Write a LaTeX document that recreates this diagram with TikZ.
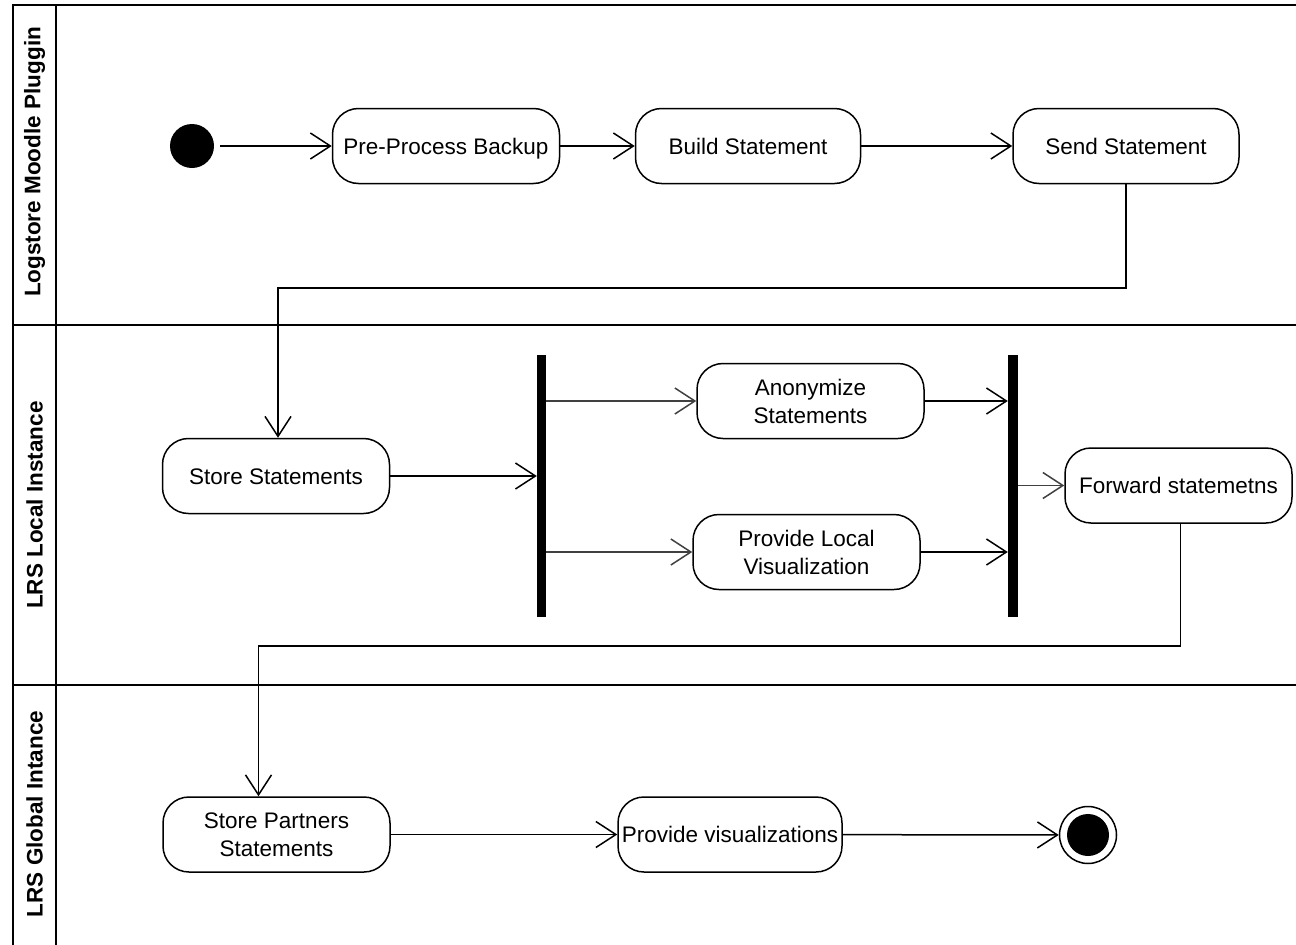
\documentclass[tikz,border=0pt]{standalone}
\usepackage{fontspec}
\setmainfont{Liberation Sans}
\usetikzlibrary{arrows.meta}
\begin{document}
\begin{tikzpicture}[x=1pt,y=-1pt,
  act/.style={draw, line width=1.5pt, rounded corners=26pt, minimum width=227pt, minimum height=75pt,
    align=center, inner sep=0pt, font=\fontsize{22.5}{28}\selectfont},
  oneline/.style={text height=16pt, text depth=0pt},
  barnode/.style={fill=black, minimum width=9pt, minimum height=262pt, inner sep=0pt},
  arr/.style={line width=1.5pt, -{Straight Barb[length=20pt,width=26pt,line width=1.5pt]}},
  grayarr/.style={arr, draw=black!75},
  lanelabel/.style={rotate=90, font=\fontsize{22.5}{27}\selectfont\bfseries},
  laneline/.style={line width=1.5pt}]
\useasboundingbox (0,0) rectangle (1296,945);
% swimlanes
\draw[laneline] (13,960) -- (13,5) -- (1310,5);
\draw[laneline] (56,5) -- (56,960);
\draw[laneline] (13,325) -- (1310,325);
\draw[laneline] (13,685) -- (1310,685);
\node[lanelabel] (l1) at (34.5,162) {Logstore Moodle Pluggin};
\node[lanelabel] (l2) at (34.5,505) {LRS Local Instance};
\node[lanelabel] (l3) at (34.5,814) {LRS Global Intance};
% nodes
\node[circle, fill=black, minimum size=44pt, inner sep=0pt] (init) at (192,146) {};
\node[act, oneline] (pre) at (446,146) {Pre-Process Backup};
\node[act, oneline, minimum width=225pt] (build) at (748,146) {Build Statement};
\node[act, oneline, minimum width=226pt] (send) at (1126,146) {Send Statement};
\node[act, oneline] (store) at (276,476) {Store Statements};
\node[barnode] (fork) at (541.5,486) {};
\node[act] (anon) at (810.5,401) {Anonymize\\Statements};
\node[act] (ploc) at (806.5,552) {Provide Local\\Visualization};
\node[barnode, minimum width=10pt] (join) at (1013,486) {};
\node[act, oneline] (fwd) at (1178.5,485.5) {Forward statemetns};
\node[act] (spart) at (276.5,834.5) {Store Partners\\Statements};
\node[act, oneline, minimum width=224pt] (pvis) at (730,834.5) {Provide visualizations};
\node[circle, draw=black, line width=1.5pt, minimum size=57pt, inner sep=0pt] (final) at (1088,835) {};
\fill[black] (final.center) circle (21pt);
% edges
\draw[arr, shorten <=6pt] (init) -- (pre);
\draw[arr] (pre) -- (build);
\draw[arr] (build) -- (send);
\draw[arr] (send.south) -- (send.south |- 0,288) -| ([xshift=2pt]store.north);
\draw[arr] (store) -- (store -| fork.west);
\draw[grayarr] (fork.east |- anon) -- (anon.west);
\draw[grayarr] (fork.east |- ploc) -- (ploc.west);
\draw[arr] (anon) -- (anon -| join.west);
\draw[arr] (ploc) -- (ploc -| join.west);
\draw[grayarr] (join.east |- fwd) -- (fwd.west);
\draw[arr] ([xshift=2pt]fwd.south) -- ([xshift=2pt]fwd.south |- 0,646) -| ([xshift=-18pt]spart.north);
\draw[arr] (spart) -- (pvis);
\draw[arr] (pvis) -- (final);
\end{tikzpicture}
\end{document}
